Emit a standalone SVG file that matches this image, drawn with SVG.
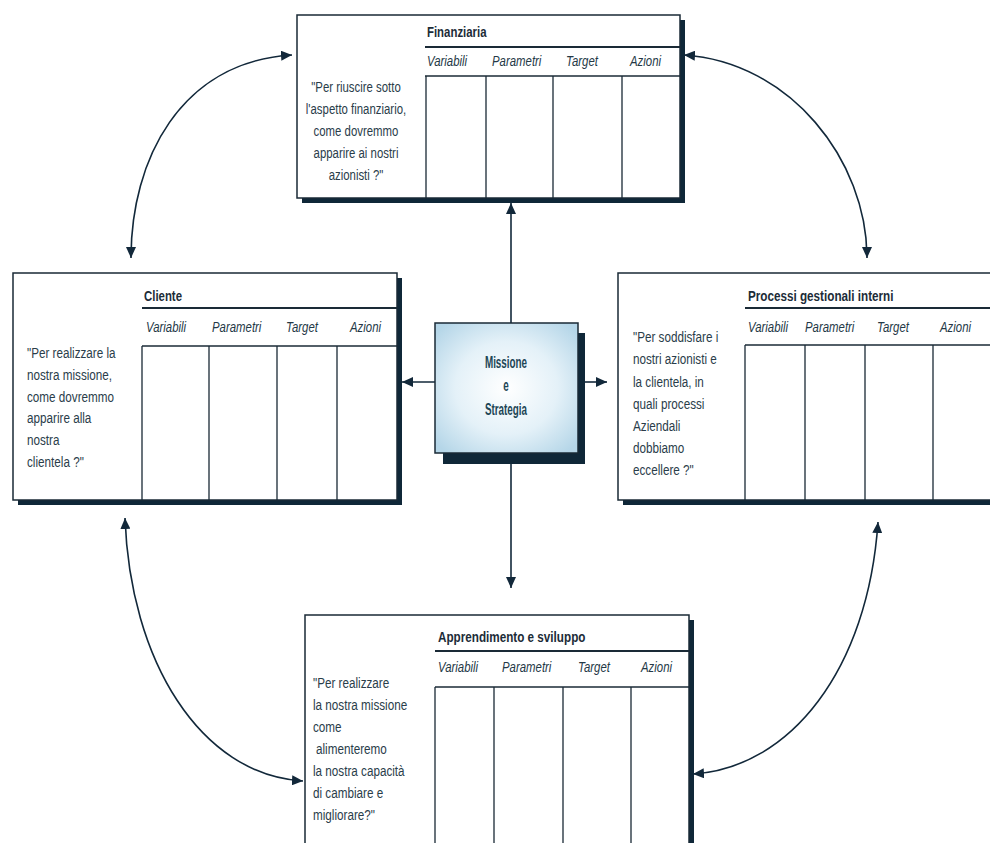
<svg xmlns="http://www.w3.org/2000/svg" width="990" height="843" viewBox="0 0 990 843">
<style>
.shadow{fill:#0f2738}
.box{fill:#ffffff;stroke:#1a2a36;stroke-width:1.5}
.hline{stroke:#1a2a36;stroke-width:2}
.tline{stroke:#1a2a36;stroke-width:1.3;fill:none}
.title{font-family:"Liberation Sans",Arial,sans-serif;font-weight:bold;font-size:15px;fill:#1c2c38}
.col{font-family:"Liberation Sans",Arial,sans-serif;font-style:italic;font-size:15px;fill:#243846}
.q{font-family:"Liberation Sans",Arial,sans-serif;font-size:15px;fill:#2a3d4a}
.ms{font-family:"Liberation Sans",Arial,sans-serif;font-weight:bold;font-size:17px;fill:#1d4656;text-anchor:middle}
.conn{fill:none;stroke:#12283a;stroke-width:1.6}
</style>
<defs>
<marker id="ah" markerUnits="userSpaceOnUse" markerWidth="11" markerHeight="10" refX="11" refY="5" orient="auto-start-reverse" viewBox="0 0 11 10">
<path d="M0,0 L11,5 L0,10 z" fill="#12283a"/>
</marker>
<radialGradient id="mg" cx="50%" cy="50%" r="65%">
<stop offset="0" stop-color="#ffffff"/>
<stop offset="0.55" stop-color="#e4f1f8"/>
<stop offset="1" stop-color="#b5d6e8"/>
</radialGradient>
</defs>
<rect width="990" height="843" fill="#ffffff"/>

<g id="connectors">
<path class="conn" d="M131,258 C131,160 180,62 292,55" marker-start="url(#ah)" marker-end="url(#ah)"/>
<path class="conn" d="M684,55 C790,62 867,160 867,258" marker-start="url(#ah)" marker-end="url(#ah)"/>
<path class="conn" d="M125,518 C130,660 200,775 303,781" marker-start="url(#ah)" marker-end="url(#ah)"/>
<path class="conn" d="M693,774 C790,768 868,670 878,522" marker-start="url(#ah)" marker-end="url(#ah)"/>
<path class="conn" d="M511,323 L511,203" marker-end="url(#ah)"/>
<path class="conn" d="M511,464 L511,588" marker-end="url(#ah)"/>
<path class="conn" d="M435,382 L402,382" marker-end="url(#ah)"/>
<path class="conn" d="M585,382 L607,382" marker-end="url(#ah)"/>
</g>

<g id="finanziaria">
<rect class="shadow" x="302" y="20" width="383" height="183"/>
<rect class="box" x="297" y="15" width="383" height="183"/>
<line class="hline" x1="425" y1="47" x2="680" y2="47"/>
<line class="tline" x1="425" y1="76" x2="680" y2="76"/>
<path class="tline" d="M426,76 V198 M486,76 V198 M553,76 V198 M622,76 V198"/>
<text class="title" transform="translate(427,37) scale(0.76,1)">Finanziaria</text>
<text class="col" transform="translate(427,66) scale(0.76,1)">Variabili</text>
<text class="col" transform="translate(492,66) scale(0.76,1)">Parametri</text>
<text class="col" transform="translate(566,66) scale(0.76,1)">Target</text>
<text class="col" transform="translate(630,66) scale(0.76,1)">Azioni</text>
<g class="q" text-anchor="middle">
<text transform="translate(356,92) scale(0.76,1)">"Per riuscire sotto</text>
<text transform="translate(356,114) scale(0.76,1)">l'aspetto finanziario,</text>
<text transform="translate(356,136) scale(0.76,1)">come dovremmo</text>
<text transform="translate(356,158) scale(0.76,1)">apparire ai nostri</text>
<text transform="translate(356,180) scale(0.76,1)">azionisti ?"</text>
</g>
</g>

<g id="cliente">
<rect class="shadow" x="18" y="278" width="384" height="227"/>
<rect class="box" x="13" y="273" width="384" height="227"/>
<line class="hline" x1="142" y1="308" x2="397" y2="308"/>
<line class="tline" x1="142" y1="346" x2="397" y2="346"/>
<path class="tline" d="M142,346 V500 M209,346 V500 M277,346 V500 M337,346 V500"/>
<text class="title" transform="translate(144,301) scale(0.76,1)">Cliente</text>
<text class="col" transform="translate(146,332) scale(0.76,1)">Variabili</text>
<text class="col" transform="translate(212,332) scale(0.76,1)">Parametri</text>
<text class="col" transform="translate(286,332) scale(0.76,1)">Target</text>
<text class="col" transform="translate(350,332) scale(0.76,1)">Azioni</text>
<g class="q">
<text transform="translate(27,358) scale(0.78,1)">"Per realizzare la</text>
<text transform="translate(27,380) scale(0.78,1)">nostra missione,</text>
<text transform="translate(27,402) scale(0.78,1)">come dovremmo</text>
<text transform="translate(27,423) scale(0.78,1)">apparire alla</text>
<text transform="translate(27,445) scale(0.78,1)">nostra</text>
<text transform="translate(27,467) scale(0.78,1)">clientela ?"</text>
</g>
</g>

<g id="processi">
<rect class="shadow" x="623" y="278" width="380" height="227"/>
<rect class="box" x="618" y="273" width="380" height="227"/>
<line class="hline" x1="745" y1="308" x2="990" y2="308"/>
<line class="tline" x1="745" y1="345" x2="990" y2="345"/>
<path class="tline" d="M745,345 V500 M805,345 V500 M865,345 V500 M933,345 V500"/>
<text class="title" transform="translate(748,301) scale(0.78,1)">Processi gestionali interni</text>
<text class="col" transform="translate(748,332) scale(0.76,1)">Variabili</text>
<text class="col" transform="translate(805,332) scale(0.76,1)">Parametri</text>
<text class="col" transform="translate(877,332) scale(0.76,1)">Target</text>
<text class="col" transform="translate(940,332) scale(0.76,1)">Azioni</text>
<g class="q">
<text transform="translate(633,342) scale(0.78,1)">"Per soddisfare i</text>
<text transform="translate(633,364) scale(0.78,1)">nostri azionisti e</text>
<text transform="translate(633,387) scale(0.78,1)">la clientela, in</text>
<text transform="translate(633,409) scale(0.78,1)">quali  processi</text>
<text transform="translate(633,431) scale(0.78,1)">Aziendali</text>
<text transform="translate(633,453) scale(0.78,1)">dobbiamo</text>
<text transform="translate(633,475) scale(0.78,1)">eccellere ?"</text>
</g>
</g>

<g id="apprendimento">
<rect class="shadow" x="310" y="620" width="384" height="240"/>
<rect class="box" x="305" y="615" width="384" height="240"/>
<line class="hline" x1="435" y1="651" x2="689" y2="651"/>
<line class="tline" x1="435" y1="687" x2="689" y2="687"/>
<path class="tline" d="M435,687 V843 M494,687 V843 M563,687 V843 M631,687 V843"/>
<text class="title" transform="translate(438,642) scale(0.78,1)">Apprendimento e sviluppo</text>
<text class="col" transform="translate(438,672) scale(0.76,1)">Variabili</text>
<text class="col" transform="translate(502,672) scale(0.76,1)">Parametri</text>
<text class="col" transform="translate(578,672) scale(0.76,1)">Target</text>
<text class="col" transform="translate(641,672) scale(0.76,1)">Azioni</text>
<g class="q">
<text transform="translate(313,688) scale(0.78,1)">"Per realizzare</text>
<text transform="translate(313,710) scale(0.78,1)">la nostra missione</text>
<text transform="translate(313,732) scale(0.78,1)">come</text>
<text transform="translate(316,754) scale(0.78,1)">alimenteremo</text>
<text transform="translate(313,776) scale(0.78,1)">la nostra capacità</text>
<text transform="translate(313,798) scale(0.78,1)">di cambiare e</text>
<text transform="translate(313,820) scale(0.78,1)">migliorare?"</text>
</g>
</g>

<g id="missione">
<rect class="shadow" x="443" y="333" width="142" height="131"/>
<rect x="435" y="323" width="143" height="130" fill="url(#mg)" stroke="#1a2a36" stroke-width="1.5"/>
<text class="ms" transform="translate(506,368) scale(0.58,1)">Missione</text>
<text class="ms" transform="translate(506,391) scale(0.58,1)">e</text>
<text class="ms" transform="translate(506,415) scale(0.58,1)">Strategia</text>
</g>
</svg>
